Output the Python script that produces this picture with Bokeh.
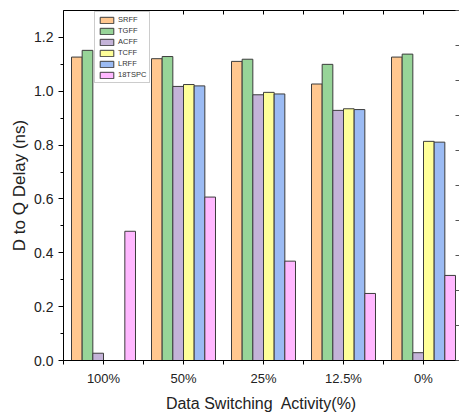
import math
from bokeh.plotting import figure
from bokeh.models import (ColumnDataSource, LinearAxis, Range1d, FixedTicker,
                          SingleIntervalTicker, NumeralTickFormatter, Legend, LegendItem)
from bokeh.transform import dodge
from bokeh.embed import file_html
from bokeh.resources import INLINE

NaN = float("nan")

categories = ["100%", "50%", "25%", "12.5%", "0%"]
series_names = ["SRFF", "TGFF", "ACFF", "TCFF", "LRFF", "18TSPC"]
SRFF = [1.127, 1.121, 1.111, 1.027, 1.127]
TGFF = [1.152, 1.129, 1.119, 1.100, 1.138]
ACFF = [0.027, 1.018, 0.987, 0.929, 0.029]
TCFF = [NaN, 1.025, 0.996, 0.935, 0.814]
LRFF = [NaN, 1.020, 0.990, 0.932, 0.811]
TSPC18 = [0.480, 0.607, 0.369, 0.249, 0.316]
colors = ["#FFC78F", "#97D498", "#C4B3D8", "#FFFF99", "#9BBBF3", "#FFB8FF"]

FONT = "Liberation Sans"

positions = list(range(1, len(categories) + 1))
src = ColumnDataSource(dict(x=positions, SRFF=SRFF, TGFF=TGFF, ACFF=ACFF,
                            TCFF=TCFF, LRFF=LRFF, TSPC18=TSPC18))
cols = ["SRFF", "TGFF", "ACFF", "TCFF", "LRFF", "TSPC18"]

p = figure(width=459, height=417, output_backend="svg", toolbar_location=None,
           x_range=Range1d(0.5, 5.45), y_range=Range1d(0, 1.3),
           min_border_left=63, min_border_right=0, min_border_top=10, min_border_bottom=57,
           x_axis_location=None, y_axis_location=None)
p.outline_line_color = None
p.xgrid.visible = False
p.ygrid.visible = False
p.background_fill_color = "white"
p.border_fill_color = "white"

bw = 0.8 / 6
items = []
for j, (c, name, col) in enumerate(zip(cols, series_names, colors)):
    r = p.vbar(x=dodge("x", (j - 2.5) * bw), top=c, width=bw, bottom=0, source=src,
               fill_color=col, line_color="#3c3c3c", line_width=1)
    items.append(LegendItem(label=name, renderers=[r]))

boundaries = [x + 0.5 for x in range(0, len(categories) + 1)]
xticker = FixedTicker(ticks=positions, minor_ticks=boundaries)

# bottom axis
xb = LinearAxis(ticker=xticker, axis_label="Data Switching\u00a0 Activity(%)")
xb.major_label_overrides = {pos: lab for pos, lab in zip(positions, categories)}
xb.major_tick_out = 4
xb.major_tick_in = 0
xb.minor_tick_out = 4
xb.minor_tick_in = 0
xb.major_label_standoff = 6
xb.major_label_text_font = FONT
xb.major_label_text_font_size = "13px"
xb.major_label_text_color = "#222222"
xb.axis_label_text_font = FONT
xb.axis_label_text_font_size = "16px"
xb.axis_label_text_font_style = "normal"
xb.axis_label_text_color = "#222222"
xb.axis_label_standoff = 6
xb.axis_line_color = "black"
p.add_layout(xb, "below")

# top axis (mirror, ticks inside, no labels)
xt = LinearAxis(ticker=FixedTicker(ticks=[], minor_ticks=sorted(positions + boundaries)))
xt.major_tick_out = 0
xt.major_tick_in = 0
xt.minor_tick_out = 0
xt.minor_tick_in = 4
xt.axis_line_color = "black"
p.add_layout(xt, "above")

# left axis
yl = LinearAxis(ticker=SingleIntervalTicker(interval=0.2, num_minor_ticks=2),
                formatter=NumeralTickFormatter(format="0.0"),
                axis_label="D to Q Delay (ns)")
yl.major_tick_out = 5
yl.major_tick_in = 0
yl.minor_tick_out = 3
yl.minor_tick_in = 0
yl.major_label_standoff = 5
yl.major_label_text_font = FONT
yl.major_label_text_font_size = "14px"
yl.major_label_text_color = "#222222"
yl.axis_label_text_font = FONT
yl.axis_label_text_font_size = "17px"
yl.axis_label_text_font_style = "normal"
yl.axis_label_text_color = "#222222"
yl.axis_label_standoff = 2
yl.axis_line_color = "black"
p.add_layout(yl, "left")

# right axis (second scale whose labels lie outside the visible area)
right_major = [0, 1, 2, 3, 4, 5]
right_minor = [0.5, 1.5, 2.5, 3.5, 4.5]
p.extra_y_ranges = {"right": Range1d(0, 5)}
yr = LinearAxis(y_range_name="right", ticker=FixedTicker(ticks=[], minor_ticks=right_major + right_minor))
yr.major_tick_in = 0
yr.major_tick_out = 0
yr.minor_tick_in = 4
yr.minor_tick_out = 0
yr.axis_line_color = None
yr.minor_tick_line_color = "#555555"
p.add_layout(yr, "right")

legend = Legend(items=items, location=(31, 277), orientation="vertical")
legend.label_text_font = FONT
legend.label_text_font_size = "7.5px"
legend.label_text_color = "#333333"
legend.glyph_width = 17
legend.glyph_height = 8
legend.label_height = 8
legend.label_standoff = 3
legend.spacing = 2
legend.padding = 3
legend.margin = 0
legend.border_line_color = "#999999"
legend.border_line_width = 1
legend.background_fill_color = "white"
legend.background_fill_alpha = 1
p.add_layout(legend, "center")

open("out.html", "w").write(file_html(p, INLINE))
